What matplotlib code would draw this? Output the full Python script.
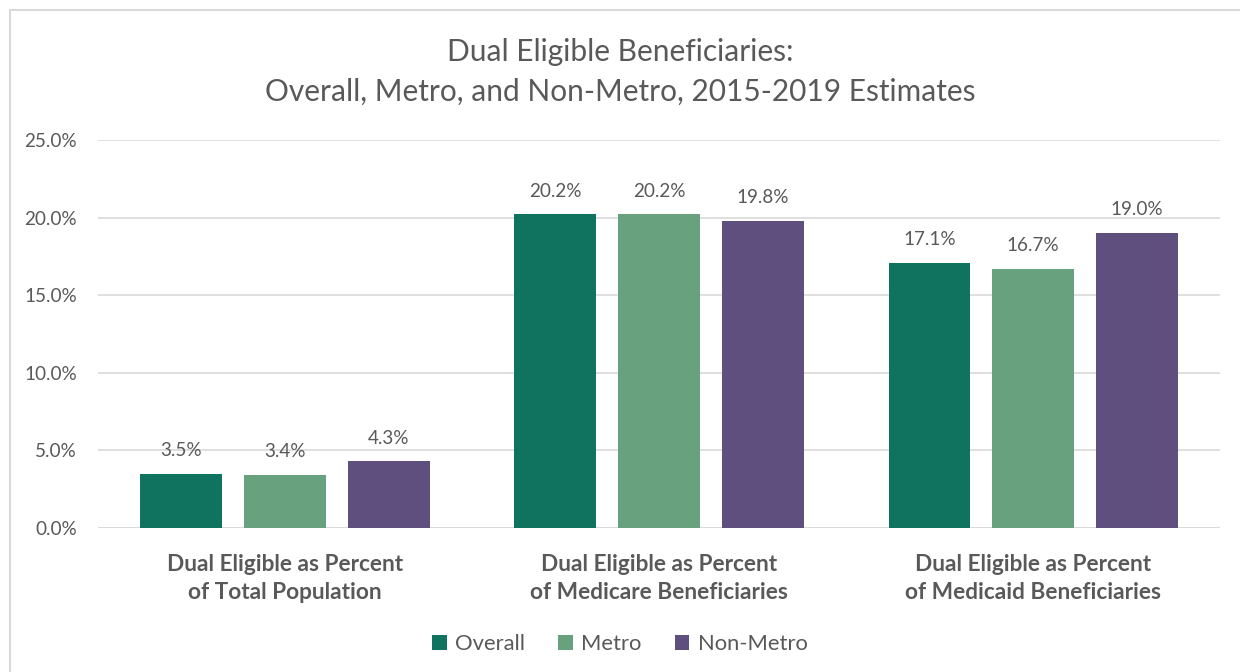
import matplotlib.pyplot as plt
import numpy as np
from matplotlib.patches import Rectangle

plt.rcParams['font.family'] = ['Lato', 'DejaVu Sans']

categories = ['Dual Eligible as Percent\nof Total Population',
              'Dual Eligible as Percent\nof Medicare Beneficiaries',
              'Dual Eligible as Percent\nof Medicaid Beneficiaries']
series = ['Overall', 'Metro', 'Non-Metro']
overall = [3.5, 20.2, 17.1]
metro = [3.4, 20.2, 16.7]
non_metro = [4.3, 19.8, 19.0]
colors = ['#10735F', '#67A17E', '#5E4F7E']
text_color = '#595959'

fig = plt.figure(figsize=(12.4, 6.72), dpi=100)
ax = fig.add_axes([0.079, 0.2143, 0.905, 0.5774])

# light frame around the chart, like the excel chart area
fig.patches.append(Rectangle((0.008, -0.01), 1.2, 0.995, transform=fig.transFigure,
                             fill=False, edgecolor='#D9D9D9', linewidth=1.5))

x = np.arange(len(categories))
width = 0.219
step = 0.277
for i, (name, vals) in enumerate(zip(series, [overall, metro, non_metro])):
    pos = x + (i - 1) * step
    ax.bar(pos, vals, width, color=colors[i], label=name, zorder=3)
    for p, v in zip(pos, vals):
        ax.text(p, v + 0.95, f'{v:.1f}%', ha='center', va='bottom',
                fontsize=13.6, color=text_color)

ax.set_xlim(-0.5, 2.5)
ax.set_ylim(0, 25)
ax.set_yticks(np.arange(0, 26, 5))
ax.set_yticklabels([f'{t:.1f}%' for t in np.arange(0, 26, 5)], fontsize=13.6, color=text_color)
ax.yaxis.grid(True, color='#D9D9D9', linewidth=1.2, zorder=0)
ax.set_xticks(x)
ax.set_xticklabels(categories, fontsize=16.3, fontweight='bold', color=text_color,
                   linespacing=1.4)
ax.tick_params(axis='both', length=0)
ax.tick_params(axis='x', pad=19)
ax.tick_params(axis='y', pad=15)
for s in ax.spines.values():
    s.set_visible(False)
ax.axhline(0, color='#D9D9D9', linewidth=1.2, zorder=2)

fig.text(0.5, 0.893, 'Dual Eligible Beneficiaries:\nOverall, Metro, and Non-Metro, 2015-2019 Estimates',
         ha='center', va='center', fontsize=21.5, color=text_color, linespacing=1.5)

fig.legend(loc='center', bbox_to_anchor=(0.5, 0.041), ncol=3, frameon=False,
           fontsize=15.8, handlelength=0.65, handleheight=0.65, handletextpad=0.4,
           columnspacing=1.5, labelcolor=text_color)

fig.savefig('out.png', dpi=100)
